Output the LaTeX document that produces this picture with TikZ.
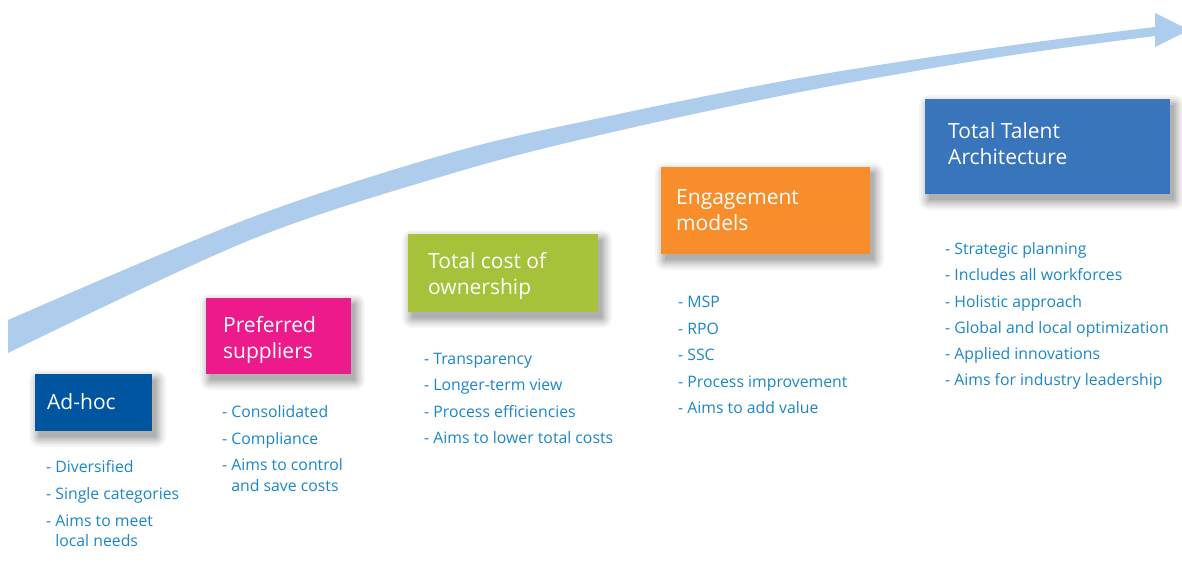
\documentclass[tikz,border=0pt]{standalone}
\usepackage{fontspec}
\setmainfont{Open Sans}
\definecolor{arrowblue}{HTML}{AECCEB}
\definecolor{adblue}{HTML}{0055A0}
\definecolor{prefpink}{HTML}{EC1A8A}
\definecolor{tcogreen}{HTML}{A5C23A}
\definecolor{engorange}{HTML}{F78D2B}
\definecolor{ttablue}{HTML}{3875BB}
\definecolor{bullettext}{HTML}{1B87C9}
\tikzset{
  box/.style={rectangle, draw=none, anchor=north west, inner sep=0pt},
  shadowlayer/.style={fill=black, fill opacity=#1},
  title/.style={anchor=base west, inner sep=0pt, text=white, font=\fontsize{21}{26}\selectfont},
  item/.style={anchor=base west, inner sep=0pt, text=bullettext, font=\fontsize{15.8}{20}\selectfont},
}
\newcommand{\cont}{\phantom{- }}
% soft shadow under a box: x, y (top-left), width, height
\newcommand{\softshadow}[4]{%
  \foreach \r/\o in {10/0.035, 8/0.045, 6/0.055, 4/0.065, 2/0.075, 0/0.08}{%
    \fill[shadowlayer=\o, rounded corners=\r pt+0.01pt]
      (#1+4-\r, #2+6-\r) rectangle (#1+#3+4+\r, #2+#4+6+\r);
  }}
\begin{document}
\begin{tikzpicture}[x=1pt,y=-1pt]
\useasboundingbox[fill=white] (0,0) rectangle (1182,568);
% arrow
\fill[arrowblue]
  plot[smooth, tension=0.55] coordinates {(8,320) (250,218) (450,153) (600,118) (800,78) (1000,47) (1155,27)}
  -- (1155,13) -- (1189,30) -- (1155,47)
  -- plot[smooth, tension=0.55] coordinates {(1155,36) (1000,57) (800,92) (600,135) (450,174) (250,240) (8,353)}
  -- cycle;
% shadows
\softshadow{35}{374}{117}{57}
\softshadow{206}{298}{145}{76}
\softshadow{408}{234}{190}{78}
\softshadow{661}{167}{209}{87}
\softshadow{925}{99}{245}{95}
% boxes
\node[box, fill=adblue, minimum width=117pt, minimum height=57pt] (adhoc) at (35,374) {};
\node[box, fill=prefpink, minimum width=145pt, minimum height=76pt] (pref) at (206,298) {};
\node[box, fill=tcogreen, minimum width=190pt, minimum height=78pt] (tco) at (408,234) {};
\node[box, fill=engorange, minimum width=209pt, minimum height=87pt] (eng) at (661,167) {};
\node[box, fill=ttablue, minimum width=245pt, minimum height=95pt] (tta) at (925,99) {};
% titles
\node[title] (adhoc1) at (47,409) {Ad-hoc};
\node[title] (pref1) at (223,332) {Preferred};
\node[title] (pref2) at (223,358) {suppliers};
\node[title] (tco1) at (428,268) {Total cost of};
\node[title] (tco2) at (428,294) {ownership};
\node[title] (eng1) at (676,204) {Engagement};
\node[title] (eng2) at (676,230) {models};
\node[title] (tta1) at (948,138) {Total Talent};
\node[title] (tta2) at (948,164) {Architecture};
% lists
\node[item] (a1) at (46,472) {- Diversified};
\node[item] (a2) at (46,499) {- Single categories};
\node[item] (a3) at (46,526) {- Aims to meet};
\node[item] (a4) at (46,546) {\cont local needs};
\node[item] (p1) at (222,417) {- Consolidated};
\node[item] (p2) at (222,444) {- Compliance};
\node[item] (p3) at (222,470) {- Aims to control};
\node[item] (p4) at (222,491) {\cont and save costs};
\node[item] (t1) at (424,364) {- Transparency};
\node[item] (t2) at (424,390) {- Longer-term view};
\node[item] (t3) at (424,417) {- Process efficiencies};
\node[item] (t4) at (424,443) {- Aims to lower total costs};
\node[item] (e1) at (678,307) {- MSP};
\node[item] (e2) at (678,334) {- RPO};
\node[item] (e3) at (678,360) {- SSC};
\node[item] (e4) at (678,387) {- Process improvement};
\node[item] (e5) at (678,413) {- Aims to add value};
\node[item] (s1) at (945,254) {- Strategic planning};
\node[item] (s2) at (945,280) {- Includes all workforces};
\node[item] (s3) at (945,307) {- Holistic approach};
\node[item] (s4) at (945,333) {- Global and local optimization};
\node[item] (s5) at (945,359) {- Applied innovations};
\node[item] (s6) at (945,385) {- Aims for industry leadership};
\end{tikzpicture}
\end{document}
